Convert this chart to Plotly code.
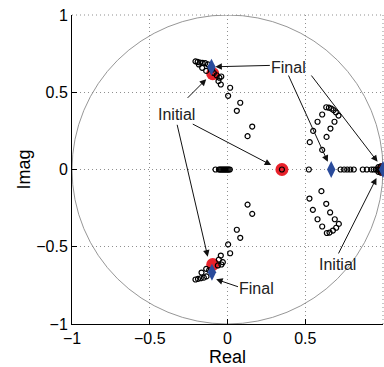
import plotly.graph_objects as go

# ---- data ----
initial_re = [0.35, -0.095, -0.095, 1.0]
initial_im = [0.0, 0.62, -0.615, 0.0]

final_re = [0.667, -0.103, -0.100, 1.0]
final_im = [0.0, 0.663, -0.665, 0.0]

traj_top_re = [-0.206, -0.192, -0.176, -0.160, -0.143, -0.125, -0.184, -0.163, -0.137, -0.110,
               -0.100, -0.088, -0.070, -0.052, -0.040, -0.058, -0.043, 0.017, 0.004, 0.082,
               0.060, 0.159, 0.129]
traj_top_im = [0.700, 0.696, 0.692, 0.690, 0.688, 0.680, 0.680, 0.658, 0.638, 0.660,
               0.645, 0.625, 0.610, 0.594, 0.602, 0.572, 0.550, 0.529, 0.477, 0.432,
               0.380, 0.278, 0.216]

traj_bot_re = [-0.206, -0.190, -0.172, -0.152, -0.135, -0.167, -0.137, -0.118, -0.062, -0.039,
               -0.030, -0.056, -0.043, 0.017, 0.004, 0.082, 0.060, 0.159, 0.129]
traj_bot_im = [-0.712, -0.708, -0.704, -0.700, -0.692, -0.667, -0.643, -0.652, -0.621, -0.615,
               -0.600, -0.583, -0.557, -0.542, -0.485, -0.442, -0.390, -0.287, -0.227]

traj_axis_re = [-0.077, -0.055, -0.048, -0.041, -0.034, -0.027, -0.020, -0.013, -0.006,
                0.001, 0.008, 0.015,
                0.35, 0.523, 0.727, 0.750, 0.770, 0.790, 0.812, 0.870, 0.896,
                0.925, 0.940, 0.955, 0.965, 0.975, 0.985, 0.993, 1.0,
                0.970, 0.970, 0.985, 0.985]
traj_axis_im = [0.0, 0.0, 0.0, 0.0, 0.0, 0.0, 0.0, 0.0, 0.0,
                0.0, 0.0, 0.0,
                0.0, 0.0, 0.0, 0.0, 0.0, 0.0, 0.0, 0.0, 0.0,
                0.0, 0.0, 0.0, 0.0, 0.0, 0.0, 0.0, 0.0,
                0.015, -0.015, 0.02, -0.02]

traj_rt_re = [0.609, 0.529, 0.637, 0.551, 0.662, 0.579, 0.688, 0.609, 0.635, 0.652,
              0.668, 0.682, 0.697, 0.714]
traj_rt_im = [0.127, 0.177, 0.211, 0.250, 0.265, 0.309, 0.309, 0.356, 0.403, 0.400,
              0.394, 0.384, 0.370, 0.349]

traj_rb_re = [0.604, 0.527, 0.635, 0.549, 0.660, 0.579, 0.690, 0.609, 0.716, 0.699,
              0.678, 0.656, 0.639]
traj_rb_im = [-0.140, -0.188, -0.222, -0.261, -0.278, -0.322, -0.322, -0.369, -0.352, -0.377,
              -0.395, -0.408, -0.411]

tick_vals = [-1, -0.5, 0, 0.5, 1]
tick_text = ["\u22121", "\u22120.5", "0", "0.5", "1"]

# annotations: (text, text_x, text_y, [(tail_x, tail_y, tip_x, tip_y), ...])
labels = [
    ("Final", 0.392, 0.663, [(0.282, 0.674, -0.078, 0.665),
                             (0.388, 0.618, 0.645, 0.050),
                             (0.532, 0.618, 0.965, 0.050)]),
    ("Initial", -0.328, 0.359, [(-0.266, 0.454, -0.137, 0.584),
                                (-0.326, 0.299, -0.127, -0.564),
                                (-0.233, 0.299, 0.281, 0.029)]),
    ("Final", 0.186, -0.773, [(0.077, -0.762, -0.073, -0.711)]),
    ("Initial", 0.707, -0.618, [(0.709, -0.553, 0.958, -0.055)]),
]

FONT = "Liberation Sans, Arial, Helvetica, sans-serif"
GRID = "#8f8f8f"
DOT = "1px,3px"

fig = go.Figure()

fig.add_shape(type="circle", xref="x", yref="y", x0=-1, y0=-1, x1=1, y1=1,
              line=dict(color="#8a8a8a", width=0.9), layer="below")
# dotted frame on top and right (MATLAB grid at the axis limits)
fig.add_shape(type="line", xref="paper", yref="paper", x0=0, x1=1, y0=1, y1=1,
              line=dict(color=GRID, width=1, dash=DOT), layer="below")
fig.add_shape(type="line", xref="paper", yref="paper", x0=1, x1=1, y0=0, y1=1,
              line=dict(color=GRID, width=1, dash=DOT), layer="below")

fig.add_trace(go.Scatter(x=initial_re, y=initial_im, mode="markers", cliponaxis=False,
                         marker=dict(size=13, color="#e8222b", line=dict(color="#e8222b", width=0)),
                         showlegend=False, hoverinfo="skip"))

traj_re = traj_top_re + traj_bot_re + traj_axis_re + traj_rt_re + traj_rb_re
traj_im = traj_top_im + traj_bot_im + traj_axis_im + traj_rt_im + traj_rb_im
fig.add_trace(go.Scatter(x=traj_re, y=traj_im, mode="markers", cliponaxis=False,
                         marker=dict(size=5, color="black", symbol="circle-open",
                                     line=dict(color="black", width=1.2)),
                         showlegend=False, hoverinfo="skip"))

fig.add_trace(go.Scatter(x=final_re, y=final_im, mode="markers", cliponaxis=False,
                         marker=dict(size=12, color="#2a4b9b", symbol="diamond-tall",
                                     line=dict(color="#2a4b9b", width=0)),
                         showlegend=False, hoverinfo="skip"))

anns = []
for text, tx, ty, arrows in labels:
    anns.append(dict(x=tx, y=ty, xref="x", yref="y", text=text, showarrow=False,
                     font=dict(family=FONT, size=16, color="#222222")))
    for (ax_, ay_, x_, y_) in arrows:
        anns.append(dict(x=x_, y=y_, xref="x", yref="y", ax=ax_, ay=ay_,
                         axref="x", ayref="y", text="", showarrow=True,
                         arrowhead=2, arrowsize=1.3, arrowwidth=1, arrowcolor="#111111"))

axis_common = dict(range=[-1, 1], tickvals=tick_vals, ticktext=tick_text,
                   showgrid=True, gridcolor=GRID, griddash=DOT, gridwidth=1,
                   zeroline=False, showline=True, linecolor="black", linewidth=1,
                   ticks="inside", ticklen=5, tickcolor="black",
                   tickfont=dict(size=16), automargin=False)

fig.update_layout(
    width=384, height=367,
    margin=dict(l=72, r=1, t=15, b=43),
    paper_bgcolor="white", plot_bgcolor="white",
    font=dict(family=FONT, color="black", size=16),
    annotations=anns,
    xaxis=dict(**axis_common, title=dict(text="Real", font=dict(size=18), standoff=5)),
    yaxis=dict(**axis_common, title=dict(text="Imag", font=dict(size=18), standoff=0)),
)

fig.write_html("out.html")
